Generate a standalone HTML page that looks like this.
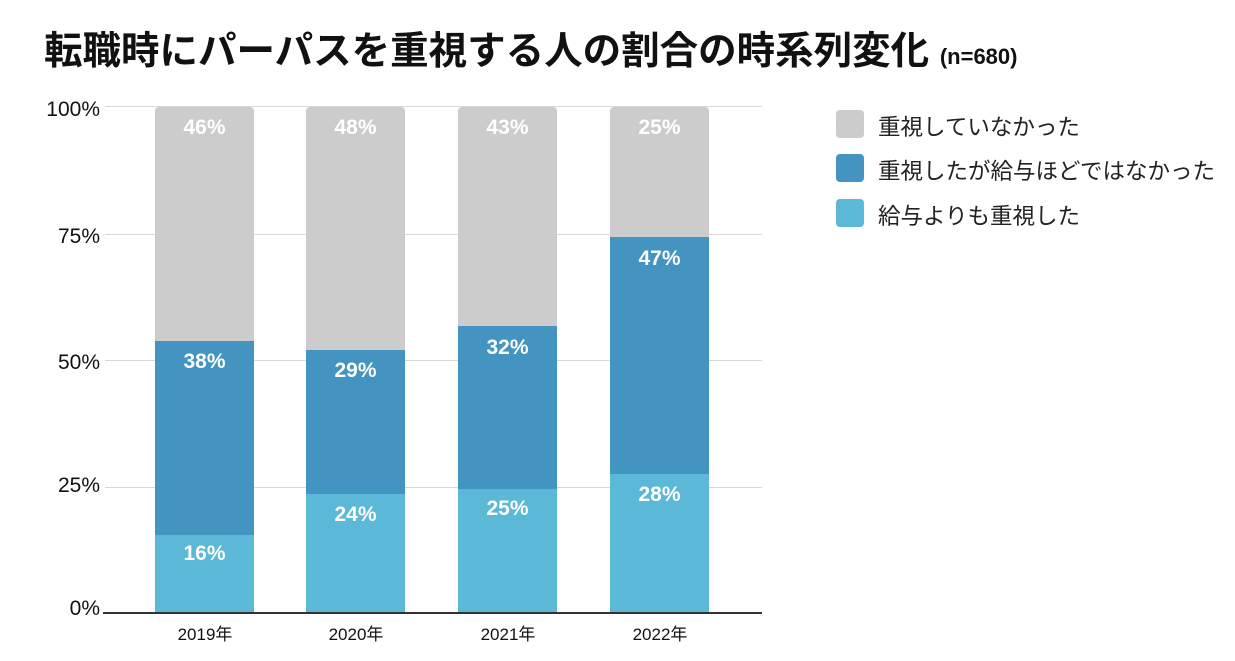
<!DOCTYPE html>
<html><head><meta charset="utf-8"><style>
body{margin:0;width:1235px;height:661px;background:#fff;font-family:"Liberation Sans","Noto Sans CJK JP",sans-serif;position:relative;overflow:hidden}
.a{position:absolute}
.g{position:absolute;left:105px;width:657px;height:1px;background:#d8d8d8}
.yl{position:absolute;width:100px;left:0;text-align:right;font-size:21px;color:#111}
.seg{position:absolute;width:99px}
.lbl{position:absolute;width:99px;text-align:center;color:#fff;font-size:21px;font-weight:bold}
.xl{position:absolute;width:120px;text-align:center;font-size:17px;color:#111;top:620px}
.lg{position:absolute;left:836px;width:28px;height:28px;border-radius:4px}
.lt{position:absolute;left:878px;font-size:22.5px;color:#222;white-space:nowrap}
</style></head><body>
<div class="a" style="left:44px;top:20px;font-size:38.5px;font-weight:bold;color:#111;white-space:nowrap">転職時にパーパスを重視する人の割合の時系列変化 <span style="font-size:22px">(n=680)</span></div>
<div class="g" style="top:106px"></div><div class="g" style="top:234px"></div><div class="g" style="top:360px"></div><div class="g" style="top:487px"></div>
<div class="yl" style="top:98px">100%</div><div class="yl" style="top:225px">75%</div><div class="yl" style="top:351px">50%</div><div class="yl" style="top:474px">25%</div><div class="yl" style="top:597px">0%</div>

<div class="seg" style="left:155px;top:107px;height:506px;background:#cccccc;border-radius:4px 4px 0 0"></div>
<div class="seg" style="left:155px;top:341px;height:272px;background:#4394c0"></div>
<div class="seg" style="left:155px;top:535px;height:78px;background:#5bb8d6"></div>
<div class="lbl" style="left:155px;top:116px">46%</div><div class="lbl" style="left:155px;top:350px">38%</div><div class="lbl" style="left:155px;top:542px">16%</div>

<div class="seg" style="left:306px;top:107px;height:506px;background:#cccccc;border-radius:4px 4px 0 0"></div>
<div class="seg" style="left:306px;top:350px;height:263px;background:#4394c0"></div>
<div class="seg" style="left:306px;top:494px;height:119px;background:#5bb8d6"></div>
<div class="lbl" style="left:306px;top:116px">48%</div><div class="lbl" style="left:306px;top:359px">29%</div><div class="lbl" style="left:306px;top:503px">24%</div>

<div class="seg" style="left:458px;top:107px;height:506px;background:#cccccc;border-radius:4px 4px 0 0"></div>
<div class="seg" style="left:458px;top:326px;height:287px;background:#4394c0"></div>
<div class="seg" style="left:458px;top:489px;height:124px;background:#5bb8d6"></div>
<div class="lbl" style="left:458px;top:116px">43%</div><div class="lbl" style="left:458px;top:336px">32%</div><div class="lbl" style="left:458px;top:497px">25%</div>

<div class="seg" style="left:610px;top:107px;height:506px;background:#cccccc;border-radius:4px 4px 0 0"></div>
<div class="seg" style="left:610px;top:237px;height:376px;background:#4394c0"></div>
<div class="seg" style="left:610px;top:474px;height:139px;background:#5bb8d6"></div>
<div class="lbl" style="left:610px;top:116px">25%</div><div class="lbl" style="left:610px;top:247px">47%</div><div class="lbl" style="left:610px;top:483px">28%</div>

<div class="a" style="left:103px;top:612px;width:659px;height:2px;background:#333"></div>
<div class="xl" style="left:145px">2019年</div><div class="xl" style="left:296px">2020年</div><div class="xl" style="left:448px">2021年</div><div class="xl" style="left:600px">2022年</div>

<div class="lg" style="top:110px;background:#cccccc"></div><div class="lt" style="top:110px">重視していなかった</div>
<div class="lg" style="top:154px;background:#4394c0"></div><div class="lt" style="top:154px">重視したが給与ほどではなかった</div>
<div class="lg" style="top:199px;background:#5bb8d6"></div><div class="lt" style="top:199px">給与よりも重視した</div>
</body></html>
